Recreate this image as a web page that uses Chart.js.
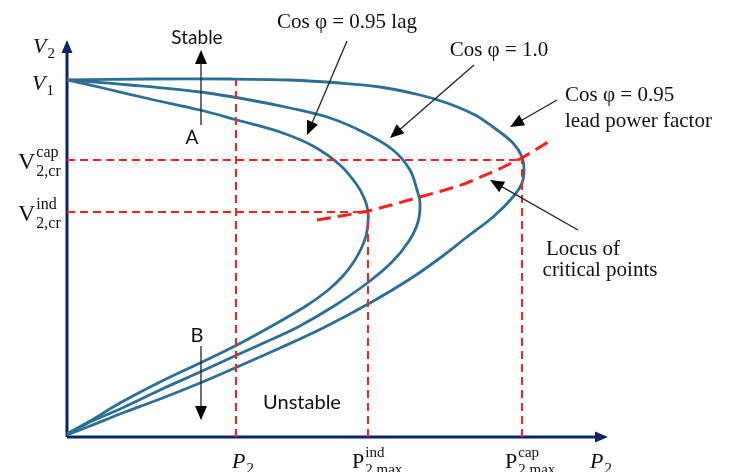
<!DOCTYPE html>
<html><head><meta charset="utf-8">
<script src="https://cdn.jsdelivr.net/npm/chart.js@4.4.1/dist/chart.umd.min.js"></script>
<style>html,body{margin:0;padding:0;background:#fff}#wrap{width:734px;height:472px}</style>
</head><body><div id="wrap"><canvas id="c" width="734" height="472"></canvas></div>
<script>
// ---- Data (schematic units) ----
// P2 = active power (x), V2 = receiving-end voltage (y)
const lagP   = [0,36,83,133,170,213,246,273,290,298,301,301,299,294,286,275,260,239,203,170,133,93,53,23,0];
const lagV   = [357,349,338,327,317,305,291,272,252,237,225,214,201,188,174,160,146,131,110,92,74,55,34,16,3];
const unityP = [0,63,133,183,223,263,296,326,343,350,353,351,342,325,299,267,231,201,170,133,93,53,23,0];
const unityV = [357,352,345,337,329,319,305,287,267,247,234,215,196,175,153,131,110,96,82,65,47,28,15,3];
const leadP  = [0,83,163,223,273,313,353,380,408,426,446,455,457,455,446,426,400,373,343,303,256,213,170,133,93,53,23,0];
const leadV  = [357,358,358,357,354,350,342,334,322,310,294,280,267,254,240,220,200,179,158,134,109,89,70,54,38,23,11,2];
const locusP = [250,280,301,328,353,378,400,430,455,486];
const locusV = [217,222,226,233,240,247,254,267,279,298];

const V1 = 357, VcapCr = 277, VindCr = 225;
const P2op = 169, PindMax = 301, PcapMax = 455;
const xAxisEnd = 541, yAxisEnd = 397;

// annotation texts
const textItems = [
  {t:'Stable', p:130, v:399, f:'sans', s:19, a:'center'},
  {t:'A', p:125, v:299, f:'sans', s:19, a:'center'},
  {t:'B', p:130, v:101, f:'sans', s:20, a:'center'},
  {t:'Unstable', p:235, v:34, f:'sans', s:20, a:'center'},
  {t:'Cos \u03C6 = 0.95 lag', p:280, v:415, f:'serif', s:21, a:'center'},
  {t:'Cos \u03C6 = 1.0', p:432, v:387, f:'serif', s:21, a:'center'},
  {t:'Cos \u03C6 = 0.95', p:498, v:342, f:'serif', s:21, a:'left'},
  {t:'lead power factor', p:498, v:316, f:'serif', s:21, a:'left'},
  {t:'Locus of', p:516, v:188, f:'serif', s:21, a:'center'},
  {t:'critical points', p:533, v:167, f:'serif', s:21, a:'center'}
];
const mathItems = [
  {b:'V', sub:'2', p:-34, v:390, it:true, s:22},
  {b:'V', sub:'1', p:-35, v:353, it:true, s:22},
  {b:'V', sup:'cap', sub:'2,cr', p:-49, v:274, it:false, s:24},
  {b:'V', sup:'ind', sub:'2,cr', p:-49, v:222, it:false, s:24},
  {b:'P', sub:'2', p:165, v:-25, it:true, s:22},
  {b:'P', sup:'ind', sub:'2,max', p:285, v:-25, it:false, s:22},
  {b:'P', sup:'cap', sub:'2,max', p:438, v:-25, it:false, s:22},
  {b:'P', sub:'2', p:523, v:-25, it:true, s:22}
];
// pointer arrows: [fromP, fromV, toP, toV]
const arrows = [
  [134,312,134,387],
  [134,91,134,17],
  [280,396,240,302],
  [407,372,323,299],
  [490,337,443,310],
  [511,207,423,257]
];

const zip = (xs, ys) => xs.map((x,i)=>({x:x, y:ys[i]}));
const BLUE = '#2b6e96', RED = '#ff1f1f', NAVY = '#0b2466';

function curve(P, V){
  return {data: zip(P,V), showLine:true, borderColor:BLUE, borderWidth:2.8, tension:0.35,
          pointRadius:0, clip:false, fill:false, order:1};
}
function dashed(P, V, w, dash){
  return {data: zip(P,V), showLine:true, borderColor:RED, borderWidth:w, borderDash:dash, tension:0,
          pointRadius:0, clip:false, fill:false, order:0};
}

const datasets = [
  curve(lagP, lagV), curve(unityP, unityV), curve(leadP, leadV),
  dashed([P2op,P2op],[0,V1],2,[8,5]),
  dashed([PindMax,PindMax],[0,VindCr],2,[8,5]),
  dashed([PcapMax,PcapMax],[0,VcapCr],2,[8,5]),
  dashed([0,PcapMax],[VcapCr,VcapCr],2,[8,5]),
  dashed([0,PindMax],[VindCr,VindCr],2,[8,5]),
  dashed(locusP, locusV, 3, [14,7]),
  {data: zip([0,0],[0,yAxisEnd-12]), showLine:true, borderColor:NAVY, borderWidth:3, pointRadius:0, clip:false, order:2},
  {data: zip([0,xAxisEnd-12],[0,0]), showLine:true, borderColor:NAVY, borderWidth:3, pointRadius:0, clip:false, order:2}
];

function fontOf(f, s, it){
  const fam = f==='sans' ? '"Lato", "Open Sans", sans-serif' : '"Liberation Serif", "DejaVu Serif", serif';
  return (it?'italic ':'') + s + 'px ' + fam;
}
function head(ctx, x0, y0, x1, y1, len, half, color){
  const a = Math.atan2(y1-y0, x1-x0);
  ctx.fillStyle = color;
  ctx.beginPath();
  ctx.moveTo(x1, y1);
  ctx.lineTo(x1 - len*Math.cos(a) + half*Math.sin(a), y1 - len*Math.sin(a) - half*Math.cos(a));
  ctx.lineTo(x1 - len*Math.cos(a) - half*Math.sin(a), y1 - len*Math.sin(a) + half*Math.cos(a));
  ctx.closePath();
  ctx.fill();
}

const annot = {
  id:'annot',
  afterDraw(chart){
    const ctx = chart.ctx, xs = chart.scales.x, ys = chart.scales.y;
    const X = p => xs.getPixelForValue(p), Y = v => ys.getPixelForValue(v);
    ctx.save();
    head(ctx, X(0), Y(0), X(0), Y(yAxisEnd), 13, 5.5, NAVY);
    head(ctx, X(0), Y(0), X(xAxisEnd), Y(0), 13, 5.5, NAVY);
    arrows.forEach(a=>{
      const x0=X(a[0]), y0=Y(a[1]), x1=X(a[2]), y1=Y(a[3]);
      const ang = Math.atan2(y1-y0, x1-x0);
      ctx.strokeStyle='#222'; ctx.lineWidth=1.3;
      ctx.beginPath(); ctx.moveTo(x0,y0); ctx.lineTo(x1-10*Math.cos(ang), y1-10*Math.sin(ang)); ctx.stroke();
      head(ctx, x0,y0,x1,y1, 14, 6, '#000');
    });
    ctx.fillStyle='#111'; ctx.textBaseline='middle';
    textItems.forEach(t=>{
      ctx.font = fontOf(t.f, t.s, false);
      ctx.textAlign = t.a;
      ctx.fillText(t.t, X(t.p), Y(t.v));
    });
    ctx.textAlign='left';
    mathItems.forEach(m=>{
      const x = X(m.p), y = Y(m.v);
      ctx.font = fontOf('serif', m.s, m.it);
      ctx.fillText(m.b, x, y);
      const w = ctx.measureText(m.b).width;
      const s = Math.round(m.s*0.68);
      ctx.font = fontOf('serif', s, false);
      if (m.sup) ctx.fillText(m.sup, x+w+1, y - m.s*0.42);
      if (m.sub) ctx.fillText(m.sub, x+w+1, y + m.s*(m.sup?0.36:0.3));
    });
    ctx.restore();
  }
};

new Chart(document.getElementById('c'), {
  type:'scatter',
  data:{datasets: datasets},
  options:{
    responsive:false, animation:false,
    layout:{padding:{left:67, right:67, top:20, bottom:35}},
    plugins:{legend:{display:false}, tooltip:{enabled:false}},
    scales:{
      x:{type:'linear', min:0, max:600, display:false},
      y:{type:'linear', min:0, max:417, display:false}
    }
  },
  plugins:[annot]
});
</script>
</body></html>
